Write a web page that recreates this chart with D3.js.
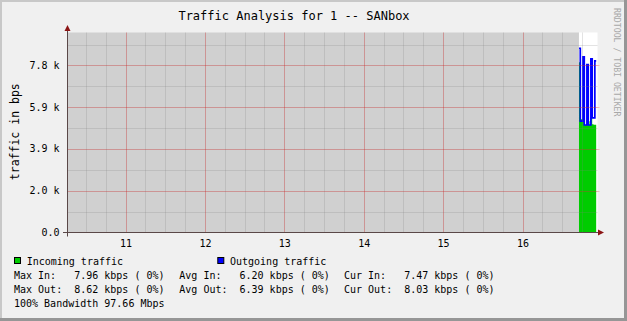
<!DOCTYPE html>
<html>
<head>
<meta charset="utf-8">
<script src="https://cdn.jsdelivr.net/npm/d3@7"></script>
<style>
  html, body { margin: 0; padding: 0; background: #f0f0f0; }
  svg { display: block; font-family: "DejaVu Sans Mono", monospace; }
  text { white-space: pre; }
</style>
</head>
<body>
<script>
// chart values
const title = 'Traffic Analysis for 1 -- SANbox';
const yTitle = 'traffic in bps';
const watermark = 'RRDTOOL / TOBI OETIKER';

const day = '2024-01-01';
const rangeStart = '10:16:10';
const rangeEnd = '16:56:40';

// one-minute samples at the right edge of the graph
const sampleTimes = ['16:42:40', '16:43:40', '16:44:40', '16:45:40', '16:46:40', '16:47:40', '16:48:40',
    '16:49:40', '16:50:40', '16:51:40', '16:52:40', '16:53:40', '16:54:40', '16:55:40'];
const incoming = [7960, 5300, 5300, 5420, 5030, 5030, 5730, 5200, 5030, 5530, 5060, 5040, 5040];
const outgoing = [8620, 5210, 5210, 8220, 5030, 5030, 7850, 5030, 5030, 8120, 5360, 5360, 8030];

const yMax = 9356;
const yStep = 1953.125;

const legendNames = ['Incoming traffic', 'Outgoing traffic'];
const legendColors = ['#00cc00', '#0000ff'];
const statLabels = [['Max In:', 'Avg In:', 'Cur In:'], ['Max Out:', 'Avg Out:', 'Cur Out:']];
const statValues = [[7.96, 6.20, 7.47], [8.62, 6.39, 8.03]];
const statPercent = [[0, 0, 0], [0, 0, 0]];
const bandwidthNote = '100% Bandwidth 97.66 Mbps';

const width = 627, height = 321;
const parseTime = d3.timeParse('%Y-%m-%d %H:%M:%S');
const t = s => parseTime(`${day} ${s}`);

const svg = d3.select('body').append('svg').attr('width', width).attr('height', height);

// background + 3d border like rrdtool
svg.append('rect').attr('width', width).attr('height', height).attr('fill', '#f0f0f0');
svg.append('rect').attr('x', 0).attr('y', 0).attr('width', width).attr('height', 2).attr('fill', '#c8c8c8');
svg.append('rect').attr('x', 0).attr('y', 0).attr('width', 2).attr('height', height).attr('fill', '#c8c8c8');
svg.append('rect').attr('x', 0).attr('y', height - 3).attr('width', width).attr('height', 3).attr('fill', '#969696');
svg.append('rect').attr('x', width - 3).attr('y', 0).attr('width', 3).attr('height', height).attr('fill', '#969696');

const x = d3.scaleTime().domain([t(rangeStart), t(rangeEnd)]).range([67.5, 597.5]);
const y = d3.scaleLinear().domain([0, yMax]).range([232.5, 32.5]);

// canvas: grey before data is known, white after
const dataStart = t(sampleTimes[0]);
svg.append('rect')
    .attr('x', x.range()[0]).attr('y', y(yMax))
    .attr('width', x(dataStart) - x.range()[0]).attr('height', y(0) - y(yMax))
    .attr('fill', '#d0d0d0');
svg.append('rect')
    .attr('x', x(dataStart)).attr('y', y(yMax))
    .attr('width', x.range()[1] - x(dataStart)).attr('height', y(0) - y(yMax))
    .attr('fill', '#ffffff');

const inPts = incoming.map((v, i) => ({ t: t(sampleTimes[i]), v }));
inPts.push({ t: t(sampleTimes[incoming.length]), v: incoming[incoming.length - 1] });
const outPts = outgoing.map((v, i) => ({ t: t(sampleTimes[i]), v }));
outPts.push({ t: t(sampleTimes[outgoing.length]), v: outgoing[outgoing.length - 1] });

const area = d3.area().curve(d3.curveStepAfter)
    .x(d => x(d.t)).y0(y(0)).y1(d => y(d.v));
const line = d3.line().curve(d3.curveStepAfter)
    .x(d => x(d.t)).y(d => y(d.v));

svg.append('path').datum(inPts).attr('d', area).attr('fill', legendColors[0]);
svg.append('path').datum(outPts).attr('d', line)
    .attr('fill', 'none').attr('stroke', legendColors[1]).attr('stroke-width', 1.7);

// grid
const grid = svg.append('g');
const minorX = x.ticks(d3.timeMinute.every(15));
const majorX = x.ticks(d3.timeHour.every(1));
const yMinor = d3.range(yStep / 2, yMax, yStep / 2);
const yMajor = d3.range(yStep, yMax, yStep);

grid.selectAll('.vminor').data(minorX).enter().append('line')
    .attr('x1', d => Math.round(x(d)) + 0.5).attr('x2', d => Math.round(x(d)) + 0.5)
    .attr('y1', y(yMax)).attr('y2', y(0))
    .attr('stroke', 'rgba(128,128,128,0.22)');
grid.selectAll('.hminor').data(yMinor).enter().append('line')
    .attr('x1', x.range()[0]).attr('x2', x.range()[1])
    .attr('y1', d => Math.round(y(d)) + 0.5).attr('y2', d => Math.round(y(d)) + 0.5)
    .attr('stroke', 'rgba(128,128,128,0.22)');
grid.selectAll('.vmajor').data(majorX).enter().append('line')
    .attr('x1', d => Math.round(x(d)) + 0.5).attr('x2', d => Math.round(x(d)) + 0.5)
    .attr('y1', y(yMax)).attr('y2', y(0))
    .attr('stroke', 'rgba(255,0,0,0.22)');
grid.selectAll('.hmajor').data(yMajor).enter().append('line')
    .attr('x1', x.range()[0]).attr('x2', x.range()[1] + 2)
    .attr('y1', d => Math.round(y(d)) + 0.5).attr('y2', d => Math.round(y(d)) + 0.5)
    .attr('stroke', 'rgba(255,0,0,0.22)');

// axes
const axisColor = '#5a4848';
const arrowColor = '#8b1414';
svg.append('line').attr('x1', 63).attr('x2', 600).attr('y1', y(0)).attr('y2', y(0))
    .attr('stroke', axisColor);
svg.append('line').attr('x1', x.range()[0]).attr('x2', x.range()[0]).attr('y1', y(0) + 4).attr('y2', 29)
    .attr('stroke', axisColor);
svg.append('path').attr('d', `M598,${y(0) - 3}L604,${y(0)}L598,${y(0) + 3}Z`).attr('fill', arrowColor);
svg.append('path').attr('d', `M${x.range()[0] - 3},31L${x.range()[0]},25L${x.range()[0] + 3},31Z`).attr('fill', arrowColor);

// tick labels
const fmtK = v => v === 0 ? '0.0' : d3.format('.1f')(v / 1000) + ' k';
svg.selectAll('.ylab').data([0].concat(yMajor)).enter().append('text')
    .attr('x', 59.5).attr('y', d => y(d) + 3.5)
    .attr('text-anchor', 'end').attr('font-size', 10).attr('fill', '#000')
    .text(fmtK);
svg.selectAll('.xlab').data(majorX).enter().append('text')
    .attr('x', d => x(d) + 0.5).attr('y', 246.5)
    .attr('text-anchor', 'middle').attr('font-size', 10).attr('fill', '#000')
    .text(d3.timeFormat('%H'));

// titles
svg.append('text').attr('x', 294).attr('y', 19.7).attr('text-anchor', 'middle')
    .attr('font-size', 12).attr('fill', '#000').text(title);
svg.append('text').attr('transform', 'translate(19,131.7) rotate(-90)')
    .attr('text-anchor', 'middle').attr('font-size', 11.5).attr('fill', '#000').text(yTitle);
svg.append('text').attr('transform', 'translate(613.5,8) rotate(90)')
    .attr('font-size', 8.2).attr('fill', '#a8a8a8').text(watermark);

// legend
const legendX = [14, 217.3];
legendNames.forEach((name, i) => {
    svg.append('rect').attr('x', legendX[i] + 0.5).attr('y', 257.5).attr('width', 6).attr('height', 6)
        .attr('fill', legendColors[i]).attr('stroke', '#000');
    svg.append('text').attr('x', legendX[i] + 12.7).attr('y', 264.5)
        .attr('font-size', 10).attr('fill', '#000').text(name);
});

const statX = [14, 179.3, 344];
statLabels.forEach((row, r) => {
    row.forEach((lab, c) => {
        const txt = lab.padEnd(10) + d3.format('.2f')(statValues[r][c]) + ' kbps (' +
            String(statPercent[r][c]).padStart(2) + '%)';
        svg.append('text').attr('x', statX[c]).attr('y', 278.5 + r * 14)
            .attr('font-size', 10).attr('fill', '#000').text(txt);
    });
});
svg.append('text').attr('x', 14).attr('y', 306.5)
    .attr('font-size', 10).attr('fill', '#000').text(bandwidthNote);
</script>
</body>
</html>
